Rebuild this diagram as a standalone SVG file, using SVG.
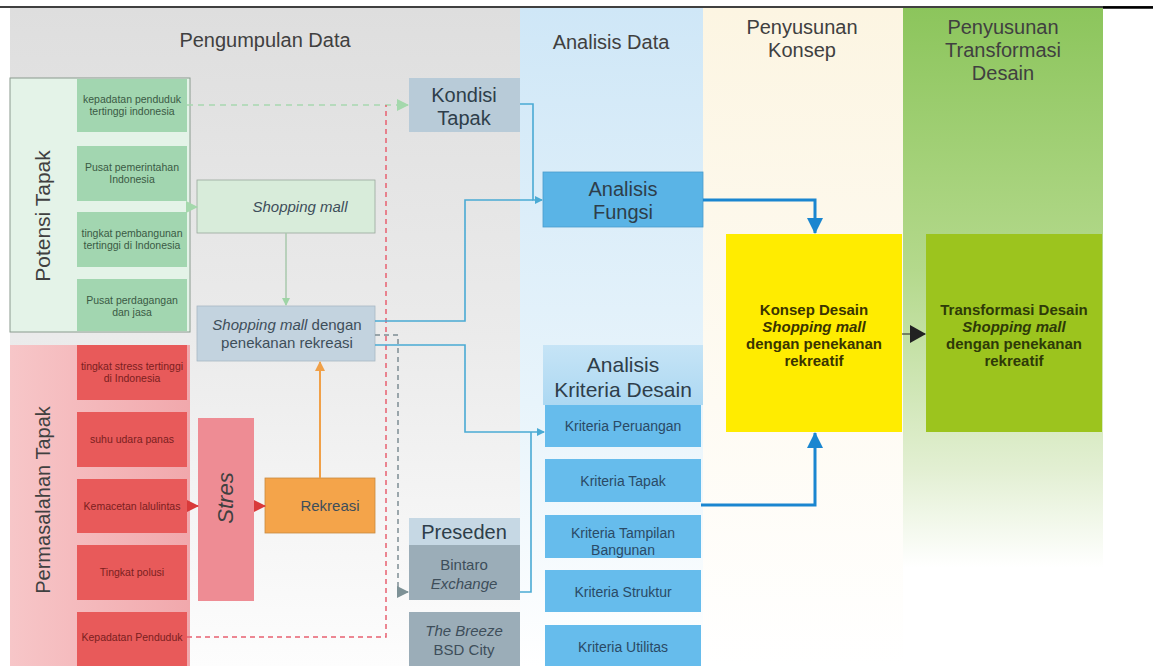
<svg xmlns="http://www.w3.org/2000/svg" width="1153" height="666" viewBox="0 0 1153 666">
<defs>
<linearGradient id="gGray" x1="0" y1="0" x2="0" y2="1"><stop offset="0" stop-color="#dedede"/><stop offset="0.5" stop-color="#ebebeb"/><stop offset="1" stop-color="#fdfdfd"/></linearGradient>
<linearGradient id="gBlue" x1="0" y1="0" x2="0" y2="1"><stop offset="0" stop-color="#cfe7f7"/><stop offset="0.6" stop-color="#e8f4fb"/><stop offset="1" stop-color="#ffffff"/></linearGradient>
<linearGradient id="gCream" x1="0" y1="0" x2="0" y2="1"><stop offset="0" stop-color="#fcf5e2"/><stop offset="0.6" stop-color="#fefbf3"/><stop offset="1" stop-color="#ffffff"/></linearGradient>
<linearGradient id="gGreen" x1="0" y1="0" x2="0" y2="1"><stop offset="0" stop-color="#8cc55c"/><stop offset="0.4" stop-color="#b4d98c"/><stop offset="0.7" stop-color="#e2efd2"/><stop offset="0.85" stop-color="#ffffff"/></linearGradient>
<linearGradient id="gPink" x1="0" y1="0" x2="1" y2="0"><stop offset="0" stop-color="#f7c6c8"/><stop offset="1" stop-color="#f1a8ac"/></linearGradient>
<linearGradient id="gKrit" x1="0" y1="0" x2="0" y2="1"><stop offset="0" stop-color="#c6e4f6"/><stop offset="1" stop-color="#acd8f2"/></linearGradient>
<marker id="aGreen" markerWidth="8" markerHeight="8" refX="7" refY="4" orient="auto" markerUnits="userSpaceOnUse"><path d="M0,0 L8,4 L0,8 Z" fill="#9fd4a6"/></marker>
<marker id="aGreenL" markerWidth="12" markerHeight="12" refX="11" refY="6" orient="auto" markerUnits="userSpaceOnUse"><path d="M0,0 L12,6 L0,12 Z" fill="#a4d8ac"/></marker>
<marker id="aRed" markerWidth="12" markerHeight="12" refX="11" refY="6" orient="auto" markerUnits="userSpaceOnUse"><path d="M0,0 L12,6 L0,12 Z" fill="#d93a3a"/></marker>
<marker id="aOrange" markerWidth="10" markerHeight="10" refX="9" refY="5" orient="auto" markerUnits="userSpaceOnUse"><path d="M0,0 L10,5 L0,10 Z" fill="#f0a048"/></marker>
<marker id="aGray" markerWidth="12" markerHeight="12" refX="11" refY="6" orient="auto" markerUnits="userSpaceOnUse"><path d="M0,0 L12,6 L0,12 Z" fill="#7d9196"/></marker>
<marker id="aLBlue" markerWidth="8" markerHeight="8" refX="7" refY="4" orient="auto" markerUnits="userSpaceOnUse"><path d="M0,0 L8,4 L0,8 Z" fill="#4aaad4"/></marker>
<marker id="aBlue" markerWidth="16" markerHeight="16" refX="15" refY="8" orient="auto" markerUnits="userSpaceOnUse"><path d="M0,0 L16,8 L0,16 Z" fill="#1a86d0"/></marker>
<marker id="aBlack" markerWidth="16" markerHeight="18" refX="15" refY="9" orient="auto" markerUnits="userSpaceOnUse"><path d="M0,0 L16,9 L0,18 Z" fill="#222222"/></marker>
</defs>
<style>
text{font-family:"Liberation Sans",Arial,sans-serif;text-anchor:middle}
.hd{font-size:20px;fill:#404040}
.sm{font-size:10.5px;fill:#3a5a44}
.smr{font-size:10.5px;fill:#7a2020}
.md{font-size:15px;fill:#3e4e5a}
.big{font-size:20px;fill:#2e3e4a}
.kr{font-size:14px;fill:#2a4a66}
.bold{font-size:15px;font-weight:bold;fill:#3a3400}
.boldg{font-size:15px;font-weight:bold;fill:#2e3a08}
.it{font-style:italic}
.gbox{fill:#a2d6b0}
.rbox{fill:#e85a5a}
.kbox{fill:#66bcec}
.cb{fill:none;stroke:#4aaad4;stroke-width:1.6}
</style>
<!-- background columns -->
<rect x="10" y="8" width="510" height="658" fill="url(#gGray)"/>
<rect x="520" y="8" width="183" height="658" fill="url(#gBlue)"/>
<rect x="703" y="8" width="200" height="658" fill="url(#gCream)"/>
<rect x="903" y="8" width="200" height="658" fill="url(#gGreen)"/>
<line x1="0" y1="7" x2="1153" y2="7" stroke="#000" stroke-width="1.5"/>
<line x1="1103" y1="7.5" x2="1153" y2="7.5" stroke="#000" stroke-width="2.5"/>
<g id="headers">
<text class="hd" x="265" y="47">Pengumpulan Data</text>
<text class="hd" x="611" y="49">Analisis Data</text>
<text class="hd" x="802" y="34">Penyusunan</text>
<text class="hd" x="802" y="57">Konsep</text>
<text class="hd" x="1003" y="34">Penyusunan</text>
<text class="hd" x="1003" y="57">Transformasi</text>
<text class="hd" x="1003" y="80">Desain</text>
</g>
<g id="potensi-tapak">
<rect x="10" y="78" width="180" height="254" fill="#e4f3e8" stroke="#8a9a8e" stroke-width="1"/>
<text class="hd" transform="translate(50,216) rotate(-90)" fill="#3a4a3e" style="font-size:21px">Potensi Tapak</text>
<rect class="gbox" x="77" y="79" width="110" height="53"/>
<text class="sm" x="132" y="103">kepadatan penduduk</text><text class="sm" x="132" y="115">tertinggi indonesia</text>
<rect class="gbox" x="77" y="146" width="110" height="55"/>
<text class="sm" x="132" y="171">Pusat pemerintahan</text><text class="sm" x="132" y="183">Indonesia</text>
<rect class="gbox" x="77" y="212" width="110" height="55"/>
<text class="sm" x="132" y="237">tingkat pembangunan</text><text class="sm" x="132" y="249">tertinggi di Indonesia</text>
<rect class="gbox" x="77" y="279" width="110" height="52"/>
<text class="sm" x="132" y="304">Pusat perdagangan</text><text class="sm" x="132" y="316">dan jasa</text>
</g>
<g id="permasalahan-tapak">
<rect x="10" y="345" width="180" height="321" fill="url(#gPink)"/>
<text class="hd" transform="translate(50,500) rotate(-90)" fill="#6a2a2e">Permasalahan Tapak</text>
<rect class="rbox" x="77" y="345" width="110" height="55"/>
<text class="smr" x="132" y="370">tingkat stress tertinggi</text><text class="smr" x="132" y="382">di Indonesia</text>
<rect class="rbox" x="77" y="412" width="110" height="55"/>
<text class="smr" x="132" y="443">suhu udara panas</text>
<rect class="rbox" x="77" y="479" width="110" height="54"/>
<text class="smr" x="132" y="510">Kemacetan lalulintas</text>
<rect class="rbox" x="77" y="545" width="110" height="55"/>
<text class="smr" x="132" y="576">Tingkat polusi</text>
<rect class="rbox" x="77" y="612" width="110" height="54"/>
<text class="smr" x="132" y="641">Kepadatan Penduduk</text>
</g>
<g id="stres">
<rect x="198" y="418" width="56" height="183" fill="#ee8c94"/>
<text class="hd it" transform="translate(233,498) rotate(-90)" fill="#5a2a2e" style="font-size:22px">Stres</text>
</g>
<g id="rekreasi">
<rect x="265" y="478" width="110" height="55" fill="#f4a44a" stroke="#c88a40" stroke-width="0.8"/>
<text class="md" x="330" y="511" fill="#6a3e10">Rekreasi</text>
</g>
<g id="shopping-mall">
<rect x="197" y="180" width="178" height="53" fill="#d8ecda" stroke="#9aa89c" stroke-width="0.8"/>
<text class="md it" x="300" y="212">Shopping mall</text>
</g>
<g id="shopping-mall-rekreasi">
<rect x="197" y="306" width="178" height="55" fill="#c3d3df" stroke="#a8b8c4" stroke-width="0.8"/>
<text class="md" x="287" y="330"><tspan class="it">Shopping mall</tspan> dengan</text>
<text class="md" x="287" y="348">penekanan rekreasi</text>
</g>
<g id="kondisi-tapak">
<rect x="409" y="78" width="111" height="54" fill="#b8cbd8"/>
<text class="big" x="464" y="102">Kondisi</text>
<text class="big" x="464" y="125">Tapak</text>
</g>
<g id="preseden">
<rect x="409" y="518" width="111" height="27" fill="#c6d8e4"/>
<text class="big" x="464" y="539">Preseden</text>
<rect x="409" y="545" width="111" height="55" fill="#9badb8"/>
<text class="md" x="464" y="570">Bintaro</text>
<text class="md it" x="464" y="589">Exchange</text>
<rect x="409" y="612" width="111" height="54" fill="#9badb8"/>
<text class="md it" x="464" y="636">The Breeze</text>
<text class="md" x="464" y="655">BSD City</text>
</g>
<g id="analisis-fungsi">
<rect x="543" y="172" width="160" height="55" fill="#5ab4e6" stroke="#4a9ccc" stroke-width="0.8"/>
<text class="big" x="623" y="196">Analisis</text>
<text class="big" x="623" y="219">Fungsi</text>
</g>
<g id="analisis-kriteria">
<rect x="543" y="345" width="160" height="60" fill="url(#gKrit)"/>
<text class="big" x="623" y="372" style="font-size:21px">Analisis</text>
<text class="big" x="623" y="397" style="font-size:21px">Kriteria Desain</text>
<rect class="kbox" x="545" y="405" width="156" height="42"/>
<text class="kr" x="623" y="431">Kriteria Peruangan</text>
<rect class="kbox" x="545" y="459" width="156" height="43"/>
<text class="kr" x="623" y="486">Kriteria Tapak</text>
<rect class="kbox" x="545" y="515" width="156" height="43"/>
<text class="kr" x="623" y="538">Kriteria Tampilan</text>
<text class="kr" x="623" y="555">Bangunan</text>
<rect class="kbox" x="545" y="570" width="156" height="42"/>
<text class="kr" x="623" y="597">Kriteria Struktur</text>
<rect class="kbox" x="545" y="625" width="156" height="41"/>
<text class="kr" x="623" y="652">Kriteria Utilitas</text>
</g>
<g id="konsep-desain">
<rect x="726" y="234" width="176" height="198" fill="#ffec00"/>
<text class="bold" x="814" y="315">Konsep Desain</text>
<text class="bold it" x="814" y="332">Shopping mall</text>
<text class="bold" x="814" y="349">dengan penekanan</text>
<text class="bold" x="814" y="366">rekreatif</text>
</g>
<g id="transformasi-desain">
<rect x="926" y="234" width="176" height="198" fill="#9cc41e"/>
<text class="boldg" x="1014" y="315">Transformasi Desain</text>
<text class="boldg it" x="1014" y="332">Shopping mall</text>
<text class="boldg" x="1014" y="349">dengan penekanan</text>
<text class="boldg" x="1014" y="366">rekreatif</text>
</g>
<g id="connectors">
<path d="M187,105 H408" fill="none" stroke="#a8d8b0" stroke-width="1.5" stroke-dasharray="6,5" marker-end="url(#aGreenL)"/>
<path d="M187,637 H386 V105" fill="none" stroke="#e86070" stroke-width="1.5" stroke-dasharray="5,4"/>
<path d="M375,335 H398 V592 H408" fill="none" stroke="#7d8d94" stroke-width="1.5" stroke-dasharray="5,4" marker-end="url(#aGray)"/>
<path d="M190,207 H197" fill="none" stroke="#a4d8ac" stroke-width="1.5" marker-end="url(#aGreenL)"/>
<path d="M286,233 V305" fill="none" stroke="#a8c8ac" stroke-width="1.5" marker-end="url(#aGreen)"/>
<path d="M187,506 H198" fill="none" stroke="#d93a3a" stroke-width="1.5" marker-end="url(#aRed)"/>
<path d="M254,506 H265" fill="none" stroke="#d93a3a" stroke-width="1.5" marker-end="url(#aRed)"/>
<path d="M320,478 V362" fill="none" stroke="#f0a048" stroke-width="2" marker-end="url(#aOrange)"/>
<path class="cb" d="M520,104 H533 V200 H542" marker-end="url(#aLBlue)"/>
<path class="cb" d="M375,321 H465 V200 H533"/>
<path class="cb" d="M375,345 H465 V432 H544" marker-end="url(#aLBlue)"/>
<path class="cb" d="M520,592 H531 V432"/>
<path d="M703,200 H815 V233" fill="none" stroke="#1a86d0" stroke-width="3" marker-end="url(#aBlue)"/>
<path d="M701,505 H815 V433" fill="none" stroke="#1a86d0" stroke-width="3" marker-end="url(#aBlue)"/>
<path d="M902,334 H925" fill="none" stroke="#222" stroke-width="1" marker-end="url(#aBlack)"/>
</g>
</svg>
